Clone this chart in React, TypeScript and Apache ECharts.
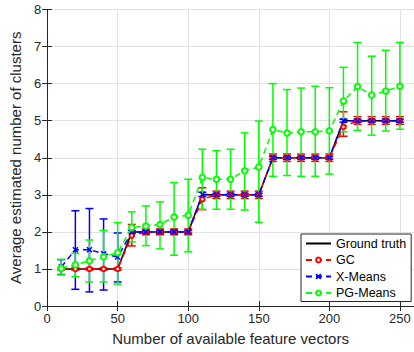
import React, { useEffect, useRef } from "react";
import * as echarts from "echarts";

const xs = [10, 20, 30, 40, 50, 60, 70, 80, 90, 100, 110, 120, 130, 140, 150, 160, 170, 180, 190, 200, 210, 220, 230, 240, 250];
const truth = [1, 1, 1, 1, 1, 2, 2, 2, 2, 2, 3, 3, 3, 3, 3, 4, 4, 4, 4, 4, 5, 5, 5, 5, 5];

const gcMean = [1, 1, 1, 1, 1, 1.9, 2, 2, 2, 2, 2.88, 3, 3, 3, 3, 4, 4, 4, 4, 4, 4.83, 5, 5, 5, 5];
const gcLow = [0.97, 0.97, 0.97, 0.97, 0.97, 1.62, 1.92, 1.92, 1.92, 1.92, 2.6, 2.9, 2.9, 2.9, 2.9, 3.9, 3.9, 3.9, 3.9, 3.9, 4.58, 4.9, 4.9, 4.9, 4.9];
const gcHigh = [1.03, 1.03, 1.03, 1.03, 1.03, 2.2, 2.08, 2.08, 2.08, 2.08, 3.19, 3.1, 3.1, 3.1, 3.1, 4.1, 4.1, 4.1, 4.1, 4.1, 5.24, 5.11, 5.11, 5.11, 5.11];

const xmMean = [1.05, 1.52, 1.52, 1.41, 1.32, 2, 2, 2, 2, 2, 3.01, 3, 3, 3, 3, 4, 4, 4, 4, 4, 5, 5, 5, 5, 5];
const xmLow = [0.85, 0.45, 0.38, 0.43, 0.65, 1.96, 1.96, 1.96, 1.96, 1.96, 2.95, 2.96, 2.96, 2.96, 2.96, 3.96, 3.96, 3.96, 3.96, 3.96, 4.96, 4.96, 4.96, 4.96, 4.96];
const xmHigh = [1.25, 2.57, 2.63, 2.35, 1.97, 2.04, 2.04, 2.04, 2.04, 2.04, 3.07, 3.04, 3.04, 3.04, 3.04, 4.04, 4.04, 4.04, 4.04, 4.04, 5.04, 5.04, 5.04, 5.04, 5.04];

const pgMean = [1.02, 1.11, 1.22, 1.33, 1.44, 2.12, 2.16, 2.2, 2.4, 2.45, 3.47, 3.42, 3.42, 3.65, 3.75, 4.76, 4.67, 4.7, 4.7, 4.73, 5.53, 5.92, 5.69, 5.8, 5.93];
const pgLow = [0.84, 0.79, 0.65, 0.65, 0.59, 1.73, 1.63, 1.54, 1.37, 1.46, 2.61, 2.61, 2.61, 2.59, 2.26, 3.5, 3.52, 3.5, 3.5, 3.56, 4.7, 4.74, 4.61, 4.72, 4.77];
const pgHigh = [1.26, 1.42, 1.78, 2.04, 2.25, 2.54, 2.7, 2.81, 3.33, 3.42, 4.23, 4.19, 4.23, 4.67, 4.99, 6.0, 5.84, 5.88, 5.93, 5.89, 6.44, 7.11, 6.74, 6.9, 7.11];

const seriesNames = ["Ground truth", "GC", "X-Means", "PG-Means"];
const xTitle = "Number of available feature vectors";
const yTitle = "Average estimated number of clusters";

const FONT = "'Liberation Sans', Arial, Helvetica, sans-serif";
const AX = "#262626";

function pairs(vals: number[]) {
  return xs.map((x, i) => [x, vals[i]]);
}

function errSeries(name: string, color: string, low: number[], high: number[], width: number) {
  return {
    type: "custom",
    name,
    silent: true,
    data: xs.map((x, i) => [x, low[i], high[i]]),
    encode: { x: 0, y: [1, 2] },
    renderItem: (params: any, api: any) => {
      const x = api.value(0);
      const p1 = api.coord([x, api.value(1)]);
      const p2 = api.coord([x, api.value(2)]);
      const w = 4;
      const st = { stroke: color, lineWidth: width };
      return {
        type: "group",
        children: [
          { type: "line", shape: { x1: p1[0], y1: p1[1], x2: p2[0], y2: p2[1] }, style: st },
          { type: "line", shape: { x1: p1[0] - w, y1: p1[1], x2: p1[0] + w, y2: p1[1] }, style: st },
          { type: "line", shape: { x1: p2[0] - w, y1: p2[1], x2: p2[0] + w, y2: p2[1] }, style: st },
        ],
      };
    },
  };
}

export default function App() {
  const ref = useRef<HTMLDivElement>(null);
  useEffect(() => {
    if (!ref.current) return;
    const chart = echarts.init(ref.current, undefined, { renderer: "svg" });
    const axisCommon = {
      type: "value",
      axisLine: { show: true, lineStyle: { color: AX, width: 1 } },
      axisTick: { show: true, inside: true, length: 5, lineStyle: { color: AX, width: 1 } },
    };
    chart.setOption({
      animation: false,
      grid: { left: 36.7, right: -2.3, top: 9.5, bottom: 46 },
      legend: {
        left: 301,
        top: 234,
        orient: "vertical",
        data: [
          { name: seriesNames[0], itemStyle: { opacity: 0 } },
          seriesNames[1],
          seriesNames[2],
          seriesNames[3],
        ],
        itemWidth: 25,
        itemHeight: 6,
        itemGap: 3.5,
        padding: [3, 5, 2, 4],
        backgroundColor: "#fff",
        borderColor: AX,
        borderWidth: 1,
        borderRadius: 0,
        textStyle: { fontSize: 12.5, color: "#000", fontFamily: FONT },
      },
      xAxis: [
        {
          ...axisCommon,
          min: 0,
          max: 260,
          interval: 50,
          position: "bottom",
          axisLabel: { color: AX, fontSize: 13, margin: 6, showMaxLabel: false, fontFamily: FONT },
          splitLine: { show: true, lineStyle: { color: "#e2e2e2", width: 1 } },
          name: xTitle,
          nameLocation: "middle",
          nameGap: 25,
          nameTextStyle: { color: AX, fontSize: 15, fontFamily: FONT },
        },
        {
          ...axisCommon,
          min: 0,
          max: 260,
          interval: 50,
          position: "top",
          axisLabel: { show: false },
          splitLine: { show: false },
        },
      ],
      yAxis: [
        {
          ...axisCommon,
          min: 0,
          max: 8,
          interval: 1,
          position: "left",
          axisLabel: { color: AX, fontSize: 13, margin: 6, fontFamily: FONT },
          splitLine: { show: true, lineStyle: { color: "#e2e2e2", width: 1 } },
          name: yTitle,
          nameLocation: "middle",
          nameGap: 12,
          nameTextStyle: { color: AX, fontSize: 15, fontFamily: FONT },
        },
        {
          ...axisCommon,
          min: 0,
          max: 8,
          interval: 1,
          position: "right",
          axisLabel: { show: false },
          splitLine: { show: false },
        },
      ],
      series: [
        {
          type: "line",
          name: "Ground truth",
          data: pairs(truth),
          symbol: "none",
          lineStyle: { color: "#000", width: 1.5, type: "solid" },
          itemStyle: { color: "#000" },
        },
        errSeries("GC err", "#ff0000", gcLow, gcHigh, 1.5),
        {
          type: "line",
          name: "GC",
          data: pairs(gcMean),
          symbol: "emptyCircle",
          symbolSize: 4.5,
          lineStyle: { color: "#ff0000", width: 1.5, type: [6, 4] },
          itemStyle: { color: "#ff0000", borderColor: "#ff0000", borderWidth: 1.5 },
        },
        errSeries("X-Means err", "#0000ff", xmLow, xmHigh, 1.5),
        {
          type: "line",
          name: "X-Means",
          data: pairs(xmMean),
          symbol: "path://M0,0L10,10M10,0L0,10",
          symbolSize: 5,
          lineStyle: { color: "#0000ff", width: 1.5, type: [6, 4] },
          itemStyle: { color: "#0000ff", borderColor: "#0000ff", borderWidth: 1.5 },
        },
        errSeries("PG-Means err", "#00ff00", pgLow, pgHigh, 1.5),
        {
          type: "line",
          name: "PG-Means",
          data: pairs(pgMean),
          symbol: "emptyCircle",
          symbolSize: 5.5,
          lineStyle: { color: "#00ff00", width: 1.5, type: [6, 4] },
          itemStyle: { color: "#00ff00", borderColor: "#00ff00", borderWidth: 1.5 },
        },
      ],
    });
    return () => chart.dispose();
  }, []);
  return (
    <div
      ref={ref}
      style={{ position: "fixed", left: 0, top: 0, width: 414, height: 352, background: "#fff" }}
    />
  );
}
